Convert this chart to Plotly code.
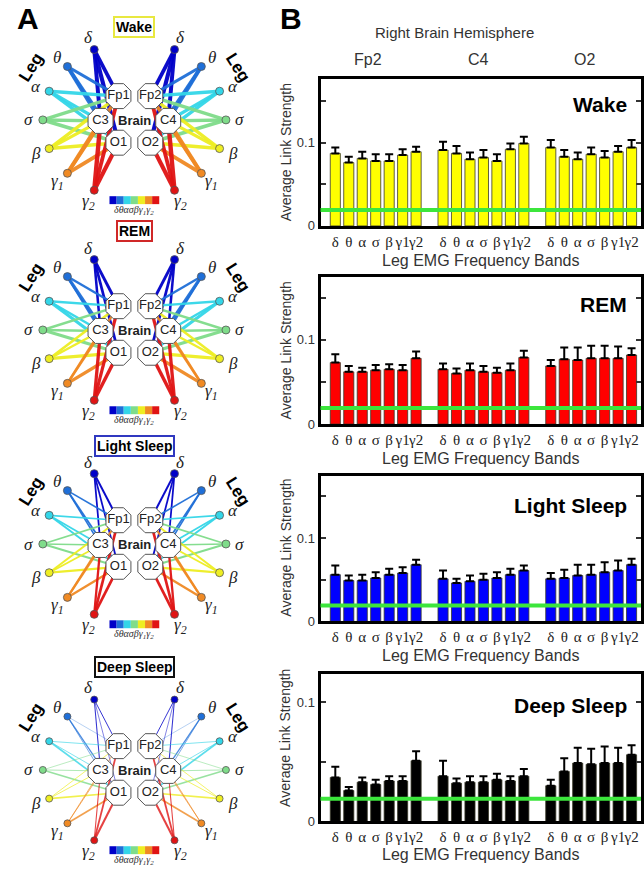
import numpy as np
import plotly.graph_objects as go

# ---------------- data ----------------
bands = ["δ", "θ", "α", "σ", "β", "γ1", "γ2"]
band_labels_net = ["δ", "θ", "α", "σ", "β", "γ<sub>1</sub>", "γ<sub>2</sub>"]
band_colors = ["#0000c8", "#1f6fd8", "#33d6e8", "#7fdc8a", "#eeee22", "#f08a24", "#e01414"]
electrodes = ["Fp2", "C4", "O2"]
left_electrodes = ["Fp1", "C3", "O1"]
states = ["Wake", "REM", "Light Sleep", "Deep Sleep"]
bar_colors = ["#ffff00", "#ff0000", "#0000ff", "#000000"]
title_border_colors = ["#e8e840", "#d02828", "#3038c0", "#111111"]
threshold = 0.019

wake_fp2 = [0.087, 0.076, 0.081, 0.078, 0.078, 0.085, 0.089]
wake_c4 = [0.091, 0.087, 0.080, 0.082, 0.078, 0.092, 0.099]
wake_o2 = [0.094, 0.083, 0.080, 0.086, 0.082, 0.089, 0.094]
wake_fp2_err = [0.007, 0.007, 0.008, 0.008, 0.008, 0.007, 0.006]
wake_c4_err = [0.010, 0.009, 0.008, 0.009, 0.008, 0.007, 0.008]
wake_o2_err = [0.009, 0.008, 0.008, 0.008, 0.008, 0.007, 0.009]

rem_fp2 = [0.073, 0.062, 0.062, 0.064, 0.065, 0.064, 0.078]
rem_c4 = [0.065, 0.060, 0.064, 0.062, 0.061, 0.064, 0.079]
rem_o2 = [0.069, 0.077, 0.076, 0.078, 0.078, 0.078, 0.082]
rem_fp2_err = [0.010, 0.007, 0.005, 0.006, 0.006, 0.006, 0.008]
rem_c4_err = [0.007, 0.006, 0.008, 0.007, 0.006, 0.008, 0.008]
rem_o2_err = [0.007, 0.014, 0.015, 0.015, 0.015, 0.014, 0.008]

light_fp2 = [0.056, 0.049, 0.049, 0.052, 0.056, 0.058, 0.068]
light_c4 = [0.051, 0.046, 0.048, 0.050, 0.052, 0.056, 0.061]
light_o2 = [0.051, 0.052, 0.055, 0.056, 0.059, 0.061, 0.068]
light_fp2_err = [0.011, 0.006, 0.007, 0.007, 0.007, 0.007, 0.006]
light_c4_err = [0.010, 0.005, 0.007, 0.007, 0.007, 0.007, 0.006]
light_o2_err = [0.007, 0.010, 0.013, 0.012, 0.012, 0.012, 0.007]

deep_fp2 = [0.037, 0.026, 0.033, 0.031, 0.034, 0.034, 0.051]
deep_c4 = [0.038, 0.032, 0.033, 0.033, 0.035, 0.034, 0.038]
deep_o2 = [0.030, 0.042, 0.049, 0.048, 0.049, 0.049, 0.056]
deep_fp2_err = [0.009, 0.003, 0.004, 0.004, 0.004, 0.004, 0.008]
deep_c4_err = [0.013, 0.004, 0.005, 0.005, 0.005, 0.004, 0.006]
deep_o2_err = [0.005, 0.011, 0.013, 0.013, 0.014, 0.013, 0.008]

means = [[wake_fp2, wake_c4, wake_o2], [rem_fp2, rem_c4, rem_o2],
         [light_fp2, light_c4, light_o2], [deep_fp2, deep_c4, deep_o2]]
errs = [[wake_fp2_err, wake_c4_err, wake_o2_err], [rem_fp2_err, rem_c4_err, rem_o2_err],
        [light_fp2_err, light_c4_err, light_o2_err], [deep_fp2_err, deep_c4_err, deep_o2_err]]
y_max = [0.176, 0.174, 0.175, 0.124]

# ---------------- layout constants ----------------
W, H = 644, 879
SANS = "Liberation Sans, Arial, sans-serif"
SERIF = "Liberation Serif, Times New Roman, serif"
plot_px = [(80, 228), (280, 428), (480, 627), (680, 829)]
xlabel_y = [263, 463, 662, 862]
ylabel_y = [154, 354, 553, 745]
state_title_y = [105, 307, 510, 712]
plot_left = 322

fig = go.Figure()
annotations = []
shapes = []
layout_axes = {}


def py(p):
    return 1 - p / H


def px(p):
    return p / W


positions = [g * 8 + b for g in range(3) for b in range(7)]
for i, st in enumerate(states):
    n = "" if i == 0 else str(i + 1)
    vals = sum(means[i], [])
    ers = sum(errs[i], [])
    fig.add_trace(go.Bar(
        x=positions, y=vals, width=0.75,
        marker=dict(color=bar_colors[i], line=dict(color="#3a3a2a", width=0.8)),
        error_y=dict(type="data", array=ers, arrayminus=[0] * len(ers), symmetric=False,
                     color="black", thickness=2, width=4),
        xaxis="x" + n, yaxis="y" + n, showlegend=False, hoverinfo="skip"))
    top, bot = plot_px[i]
    layout_axes["xaxis" + n] = dict(
        domain=[px(plot_left), 1.0], anchor="y" + n, range=[-1.1, 22.7],
        tickvals=positions, ticktext=bands * 3, ticks="", tickangle=0,
        tickfont=dict(family=SERIF, size=15, color="#222"),
        showline=True, linewidth=3, linecolor="black", mirror=True,
        showgrid=False, zeroline=False, fixedrange=True)
    layout_axes["yaxis" + n] = dict(
        domain=[py(bot), py(top)], anchor="x" + n, range=[0, y_max[i]],
        tickvals=[0, 0.1], ticktext=["0", "0.1"],
        ticks="inside", ticklen=5, tickwidth=1.5, tickcolor="#333",
        minor=dict(tickvals=[0.05, 0.15], ticks="inside", ticklen=5, tickwidth=1.5, tickcolor="#333"),
        tickfont=dict(family=SANS, size=13, color="#333"),
        showline=True, linewidth=3, linecolor="black", mirror="allticks",
        showgrid=False, zeroline=False, fixedrange=True)
    shapes.append(dict(type="line", xref="x" + n + " domain", yref="y" + n,
                       x0=0, x1=1, y0=threshold, y1=threshold,
                       line=dict(color="#3ce63c", width=4), layer="above"))
    annotations.append(dict(text="<b>" + st + "</b>", xref="paper", yref="paper",
                            x=px(632), y=py(state_title_y[i]), xanchor="right", yanchor="middle",
                            showarrow=False, font=dict(family=SANS, size=21, color="black")))
    annotations.append(dict(text="Average Link Strength", xref="paper", yref="paper",
                            x=px(287), y=py(ylabel_y[i]), textangle=-90,
                            xanchor="center", yanchor="middle", showarrow=False,
                            font=dict(family=SANS, size=14, color="#333")))
    annotations.append(dict(text="Leg EMG Frequency Bands", xref="paper", yref="paper",
                            x=px(483), y=py(xlabel_y[i]), xanchor="center", yanchor="middle",
                            showarrow=False, font=dict(family=SANS, size=16, color="#333")))

annotations.append(dict(text="Right Brain Hemisphere", xref="paper", yref="paper",
                        x=px(457), y=py(33), showarrow=False, xanchor="center", yanchor="middle",
                        font=dict(family=SANS, size=15, color="#333")))
for lab, xx in zip(electrodes, [370, 481, 587]):
    annotations.append(dict(text=lab, xref="paper", yref="paper", x=px(xx), y=py(60),
                            showarrow=False, xanchor="center", yanchor="middle",
                            font=dict(family=SANS, size=16, color="#333")))
annotations.append(dict(text="<b>A</b>", xref="paper", yref="paper", x=px(28), y=py(19),
                        xanchor="center", yanchor="middle",
                        showarrow=False, font=dict(family=SANS, size=30, color="black")))
annotations.append(dict(text="<b>B</b>", xref="paper", yref="paper", x=px(292), y=py(19),
                        xanchor="center", yanchor="middle",
                        showarrow=False, font=dict(family=SANS, size=30, color="black")))

# ---------------- Panel A network diagrams ----------------
NX = "x5"
NY = "y5"
layout_axes["xaxis5"] = dict(domain=[0, 270 / W], anchor="y5", range=[0, 270], visible=False, fixedrange=True)
layout_axes["yaxis5"] = dict(domain=[0, 1], anchor="x5", range=[H, 0], visible=False, fixedrange=True)

cx = 135
net_cy = [121, 333, 549, 777]
net_title_y = [27, 233, 450, 673]
ang = np.deg2rad([64, 43, 21.5, 0, -21.5, -43, -64])
rx, ry = 92, 79
elec_off = [(16, -24), (34, 1), (16, 23)]  # Fp, C, O


def link_width(v):
    return max(0.4, 55 * (v - threshold))


for i, st in enumerate(states):
    cy = net_cy[i]
    for side in (-1, 1):
        leg_x = [cx + side * rx * np.cos(a) for a in ang]
        leg_y = [cy - ry * np.sin(a) for a in ang]
        el_x = [cx + side * dx for dx, dy in elec_off]
        el_y = [cy + dy for dx, dy in elec_off]
        for b in range(7):
            for e in range(3):
                v = means[i][e][b]
                fig.add_trace(go.Scatter(
                    x=[leg_x[b], el_x[e]], y=[leg_y[b], el_y[e]], mode="lines",
                    line=dict(color=band_colors[b], width=link_width(v)),
                    opacity=0.95 if i < 3 else 0.8,
                    xaxis=NX, yaxis=NY, showlegend=False, hoverinfo="skip"))
        fig.add_trace(go.Scatter(
            x=leg_x, y=leg_y, mode="markers",
            marker=dict(size=8 if i < 3 else 7, color=band_colors, line=dict(color="#555", width=0.8)),
            xaxis=NX, yaxis=NY, showlegend=False, hoverinfo="skip"))
        labs = electrodes if side == 1 else left_electrodes
        fig.add_trace(go.Scatter(
            x=el_x, y=el_y, mode="markers+text", text=labs, textposition="middle center",
            textfont=dict(family=SANS, size=13, color="#222"),
            marker=dict(symbol="octagon", size=27, color="white", line=dict(color="#555", width=1)),
            xaxis=NX, yaxis=NY, showlegend=False, hoverinfo="skip"))
        for b in range(7):
            lx = leg_x[b] + side * 14 * np.cos(ang[b])
            lyy = leg_y[b] - 13 * np.sin(ang[b])
            annotations.append(dict(text="<i>" + band_labels_net[b] + "</i>", xref=NX, yref=NY,
                                    x=lx, y=lyy, showarrow=False, xanchor="center", yanchor="middle",
                                    font=dict(family=SERIF, size=17, color="#222")))
        annotations.append(dict(text="<b>Leg</b>", xref=NX, yref=NY, x=cx + side * 104, y=cy - 53,
                                textangle=side * 58, showarrow=False,
                                font=dict(family=SANS, size=17, color="black")))
    annotations.append(dict(text="<b>Brain</b>", xref=NX, yref=NY, x=cx, y=cy + 1, showarrow=False,
                            font=dict(family=SANS, size=13, color="#222")))
    annotations.append(dict(text="<b>" + st + "</b>", xref=NX, yref=NY, x=cx, y=net_title_y[i],
                            showarrow=False, bordercolor=title_border_colors[i], borderwidth=2,
                            borderpad=1, bgcolor="white",
                            font=dict(family=SANS, size=14, color="black")))
    # small colour bar
    for b in range(7):
        shapes.append(dict(type="rect", xref=NX, yref=NY, x0=cx - 25 + b * 50 / 7,
                           x1=cx - 25 + (b + 1) * 50 / 7, y0=cy + 77, y1=cy + 85,
                           fillcolor=band_colors[b], line=dict(width=0)))
    annotations.append(dict(text="<i>δθασβγ<sub>1</sub>γ<sub>2</sub></i>", xref=NX, yref=NY,
                            x=cx, y=cy + 91, showarrow=False,
                            font=dict(family=SERIF, size=10, color="#333")))

fig.update_layout(
    width=W, height=H, margin=dict(l=0, r=0, t=0, b=0),
    paper_bgcolor="white", plot_bgcolor="white",
    annotations=annotations, shapes=shapes, showlegend=False, **layout_axes)

fig.write_html("out.html", config={"displayModeBar": False})

# remove the default page margin so the figure sits at the window origin
with open("out.html", encoding="utf-8") as f:
    html = f.read()
html = html.replace("<head>", "<head><style>html,body{margin:0;padding:0;overflow:hidden;}</style>", 1)
with open("out.html", "w", encoding="utf-8") as f:
    f.write(html)
